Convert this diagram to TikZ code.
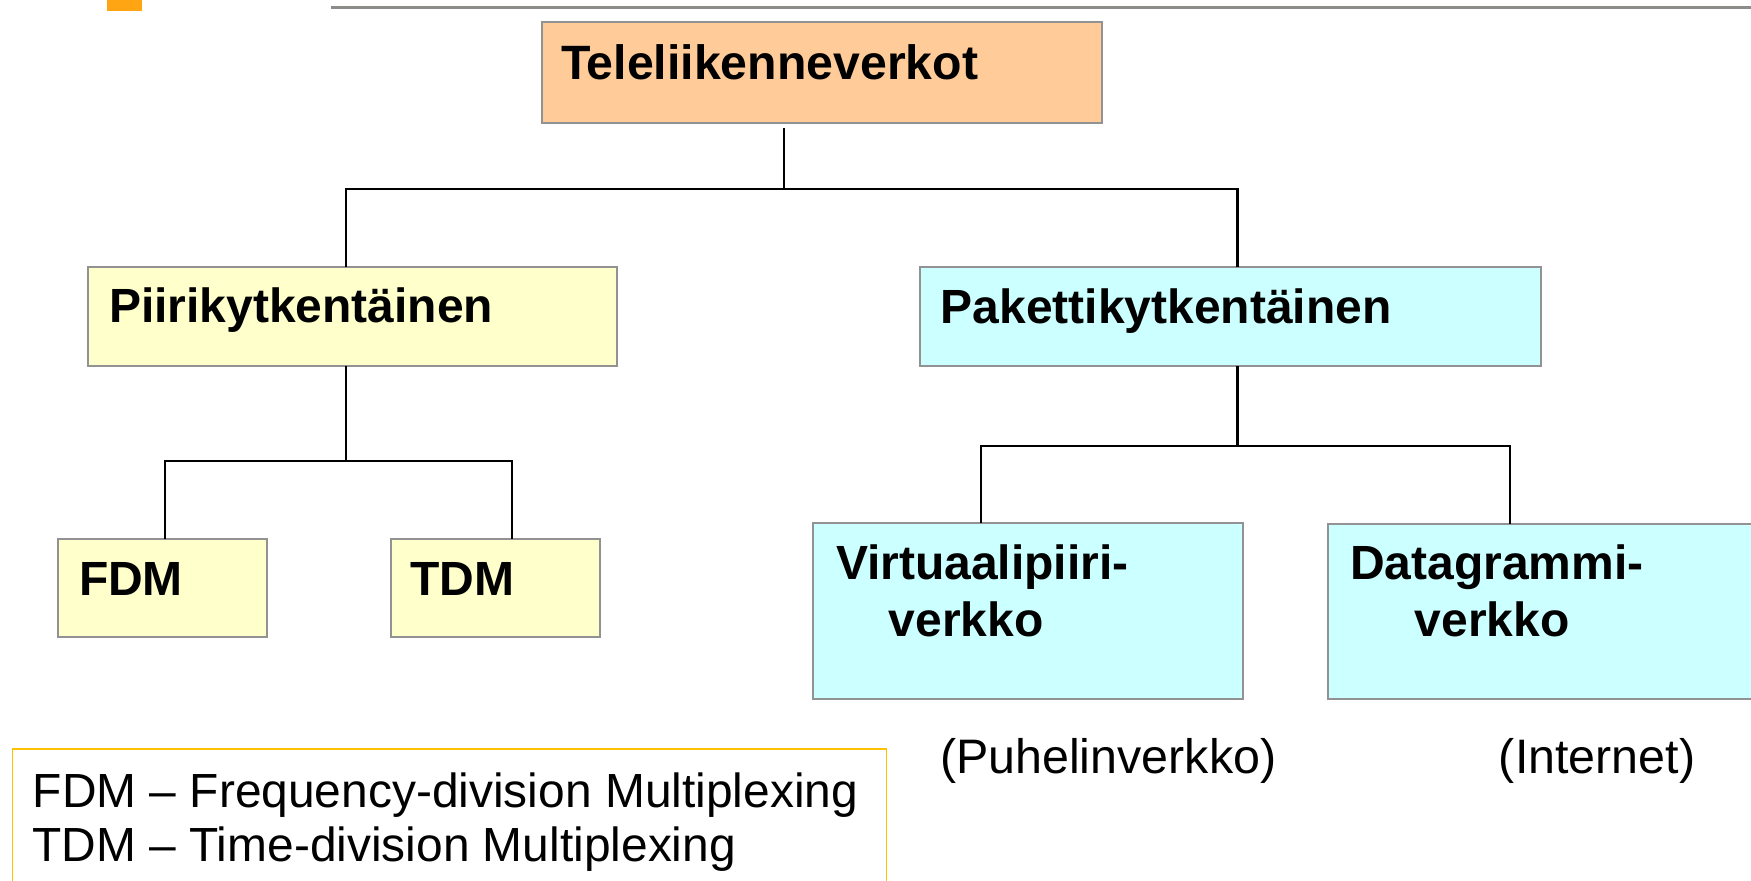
\documentclass[tikz,border=0pt]{standalone}
\usepackage{fontspec}
\setmainfont{Liberation Sans}
\definecolor{peach}{HTML}{FFCC99}
\definecolor{paleyellow}{HTML}{FFFFCC}
\definecolor{palecyan}{HTML}{CCFFFF}
\definecolor{boxgray}{HTML}{929292}
\definecolor{rulegray}{HTML}{8C8C88}
\definecolor{accentorange}{HTML}{FFA514}
\definecolor{legendgold}{HTML}{FFC000}
\tikzset{
  box/.style={draw=boxgray, line width=1pt, inner sep=0pt, outer sep=0pt, anchor=north west},
  boldlabel/.style={anchor=base west, inner sep=0pt, font=\fontsize{24pt}{28pt}\selectfont\bfseries},
  plainlabel/.style={anchor=base west, inner sep=0pt, font=\fontsize{24.2pt}{28pt}\selectfont},
  legendlabel/.style={anchor=base west, inner sep=0pt, font=\fontsize{23.95pt}{28pt}\selectfont},
  conn/.style={draw=black, line width=1.15pt},
}
\begin{document}
\begin{tikzpicture}[x=0.5pt, y=-0.5pt]
\useasboundingbox (0,0) rectangle (1751,881);
% decorations at top
\fill[accentorange] (107,0) rectangle (142,11.5);
\draw[rulegray, line width=1.5pt] (331,7.3) -- (1760,7.3);
% boxes
\node[box, fill=peach, minimum width=280.2pt, minimum height=50.3pt] (tele) at (541.7,22) {};
\node[box, fill=paleyellow, minimum width=264.3pt, minimum height=49.2pt] (piiri) at (88,267.3) {};
\node[box, fill=palecyan, minimum width=310.5pt, minimum height=49.8pt] (paketti) at (920,266.7) {};
\node[box, fill=paleyellow, minimum width=104.2pt, minimum height=49.3pt] (fdm) at (58.3,538.7) {};
\node[box, fill=paleyellow, minimum width=104.3pt, minimum height=49.3pt] (tdm) at (391,538.7) {};
\node[box, fill=palecyan, minimum width=215.2pt, minimum height=87.8pt] (virt) at (813,523.3) {};
\node[box, fill=palecyan, minimum width=236pt, minimum height=87.7pt] (data) at (1328.3,524) {};
\node[box, draw=legendgold, line width=0.6pt, minimum width=437pt, minimum height=80pt] (legend) at (12.7,749) {};
% labels
\node[boldlabel, font=\fontsize{24.1pt}{28pt}\selectfont\bfseries] (teletext) at (560.7,80) {Teleliikenneverkot};
\node[boldlabel] (piiritext) at (108.6,322.7) {Piirikytkentäinen};
\node[boldlabel] (pakettitext) at (940.2,323.3) {Pakettikytkentäinen};
\node[boldlabel] (fdmtext) at (78.6,596) {FDM};
\node[boldlabel] (tdmtext) at (409.7,596) {TDM};
\node[boldlabel] (virttext1) at (835.6,580) {Virtuaalipiiri-};
\node[boldlabel] (virttext2) at (888.3,636.7) {verkko};
\node[boldlabel] (datatext1) at (1349.6,580) {Datagrammi-};
\node[boldlabel] (datatext2) at (1414.5,636.7) {verkko};
\node[plainlabel] (puhelin) at (939.7,773.3) {(Puhelinverkko)};
\node[plainlabel] (internet) at (1498.5,773.3) {(Internet)};
\node[legendlabel] (leg1) at (32.5,807) {FDM – Frequency-division Multiplexing};
\node[legendlabel] (leg2) at (32,861) {TDM – Time-division Multiplexing};
% junction coordinates
\coordinate (c0) at (784.3,128);
\coordinate (j0) at (784.3,189);
\coordinate (jl) at (345.7,189);
\coordinate (jr) at (1237.5,189);
\coordinate (k0) at (345.7,461);
\coordinate (kl) at (165.3,461);
\coordinate (kr) at (511.7,461);
\coordinate (m0) at (1237.5,445.7);
\coordinate (ml) at (981,445.7);
\coordinate (mr) at (1510,445.7);
% connectors
\draw[conn] (c0) -- (j0);
\draw[conn] (piiri.north -| jl) -- (jl) -- (jr) -- (paketti.north -| jr);
\draw[conn] (piiri.south -| k0) -- (k0);
\draw[conn] (fdm.north -| kl) -- (kl) -- (kr) -- (tdm.north -| kr);
\draw[conn] (paketti.south -| m0) -- (m0);
\draw[conn] (virt.north -| ml) -- (ml) -- (mr) -- (data.north -| mr);
\end{tikzpicture}
\end{document}
